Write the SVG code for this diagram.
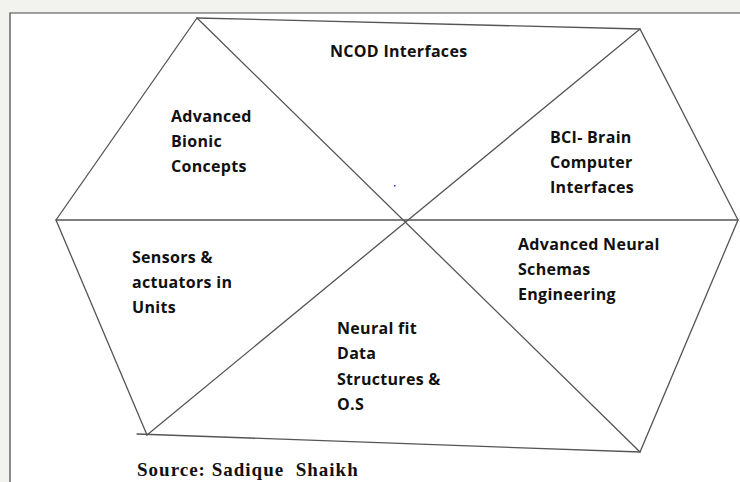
<svg xmlns="http://www.w3.org/2000/svg" width="740" height="482" viewBox="0 0 740 482">
<style>
.e{stroke:#555;stroke-width:1.3;fill:none;stroke-linecap:round}
.t{font-family:"Open Sans","DejaVu Sans",sans-serif;font-weight:bold;font-size:16px;letter-spacing:0.3px;fill:#111}
.s{font-family:"Liberation Serif","Times New Roman",serif;font-weight:bold;font-size:19px;letter-spacing:1px;fill:#111}
</style>
<rect x="0" y="0" width="740" height="482" fill="#f2f2ee"/>
<rect x="10" y="13" width="740" height="480" fill="#fff"/>
<path d="M10,482 V13 H740" stroke="#444" stroke-width="1.2" fill="none"/>
<g id="connectors">
<polyline class="e" points="197,18 640,29 738,220 640,452 137,434"/>
<polyline class="e" points="197,18 56,220 147,435"/>
<line class="e" x1="56" y1="220" x2="738" y2="220"/>
<line class="e" x1="197" y1="18" x2="640" y2="452"/>
<line class="e" x1="640" y1="29" x2="147" y2="435"/>
</g>
<rect x="394" y="185" width="1.5" height="1.5" fill="#2233ee"/>
<g id="ncod"><text class="t" x="330" y="57">NCOD Interfaces</text></g>
<g id="bionic"><text class="t" x="171" y="122">Advanced</text><text class="t" x="171" y="147">Bionic</text><text class="t" x="171" y="172">Concepts</text></g>
<g id="bci"><text class="t" x="550" y="143">BCI- Brain</text><text class="t" x="550" y="168">Computer</text><text class="t" x="550" y="193">Interfaces</text></g>
<g id="neural"><text class="t" x="518" y="250">Advanced Neural</text><text class="t" x="518" y="275">Schemas</text><text class="t" x="518" y="300">Engineering</text></g>
<g id="sensors"><text class="t" x="132" y="263">Sensors &amp;</text><text class="t" x="132" y="288">actuators in</text><text class="t" x="132" y="313">Units</text></g>
<g id="datastruct"><text class="t" x="337" y="334">Neural fit</text><text class="t" x="337" y="359">Data</text><text class="t" x="337" y="385">Structures &amp;</text><text class="t" x="337" y="410">O.S</text></g>
<text class="s" x="137" y="476" xml:space="preserve">Source: Sadique  Shaikh</text>
</svg>
